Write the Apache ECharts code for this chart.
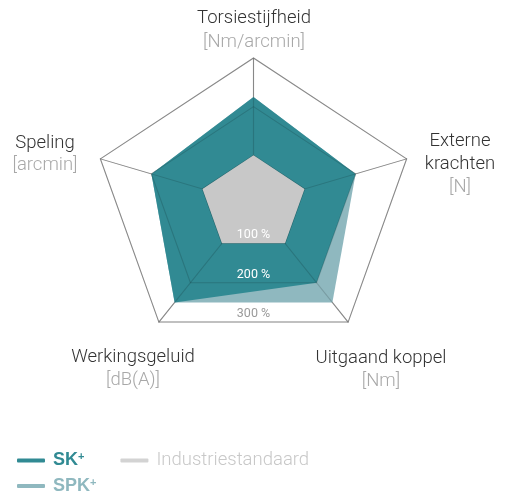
<!DOCTYPE html>
<html>
<head>
<meta charset="utf-8">
<script src="https://cdn.jsdelivr.net/npm/echarts@6/dist/echarts.min.js"></script>
<style>
  html, body { margin: 0; padding: 0; background: #fff; }
  #stage { position: relative; width: 505px; height: 494px; overflow: hidden; }
  #web, #keys { position: absolute; left: 0; top: 0; width: 505px; height: 494px; }
  /* the web is drawn wider than tall */
  #web { transform: scaleX(1.1027); transform-origin: 253.5px 0; }
</style>
</head>
<body>
<div id="stage"><div id="web"></div><div id="keys"></div></div>
<script>
// Axes, clockwise from the top (ECharts lays indicators out counter-clockwise)
const indicators = ['Torsiestijfheid', 'Speling', 'Werkingsgeluid', 'Uitgaand koppel', 'Externe krachten'];
const units = ['[Nm/arcmin]', '[arcmin]', '[dB(A)]', '[Nm]', '[N]'];

// Values in % of the industry standard, same order as indicators
const skPlus = [220, 200, 250, 200, 200];
const spkPlus = [220, 200, 250, 250, 200];
const industryStandard = [100, 100, 100, 100, 100];

// Ring labels
const levelTicks = [100, 200, 300];
const scaleMax = 300;

const seriesNames = { sk: 'SK+', spk: 'SPK+', ind: 'Industriestandaard' };

const COLORS = {
  sk: '#318a93',
  spk: '#8fb8bf',
  ind: '#c8c8c8',
  indKey: '#d3d3d3',
  grid: '#a0a0a0',
  gridShade: 'rgba(0,0,0,0.15)',
  name: '#333333',
  unit: '#a8a8a8'
};
const FONT = '"Liberation Sans", Arial, sans-serif';
const LIGHT_FONT = 'Roboto, "Liberation Sans", sans-serif';

const CENTER = [253.5, 204];
const RADIUS = 146;

function radarBase(extra) {
  return Object.assign({
    indicator: indicators.map(name => ({ name: name, min: 0, max: scaleMax })),
    center: CENTER,
    radius: RADIUS,
    startAngle: 90,
    splitNumber: levelTicks.length,
    shape: 'polygon',
    axisName: { show: false },
    axisLabel: { show: false },
    axisTick: { show: false },
    splitArea: { show: false }
  }, extra);
}

// ---- the web with the three profiles ----
const web = echarts.init(document.getElementById('web'), null, { renderer: 'svg' });
web.setOption({
  animation: false,
  radar: [
    radarBase({
      z: 0,
      splitLine: { lineStyle: { color: COLORS.grid, width: 1 } },
      axisLine: { lineStyle: { color: COLORS.grid, width: 1 } }
    }),
    // darker grid strokes laid over the filled profiles
    radarBase({
      z: 3,
      splitLine: { lineStyle: { color: COLORS.gridShade, width: 1 } },
      axisLine: { lineStyle: { color: COLORS.gridShade, width: 1 } }
    })
  ],
  series: [
    {
      type: 'radar', radarIndex: 0, z: 2, name: seriesNames.spk, symbol: 'none',
      lineStyle: { width: 0 },
      areaStyle: { color: COLORS.spk, opacity: 1 },
      data: [{ name: seriesNames.spk, value: spkPlus }]
    },
    {
      type: 'radar', radarIndex: 0, z: 2, name: seriesNames.sk, symbol: 'none',
      lineStyle: { width: 0 },
      areaStyle: { color: COLORS.sk, opacity: 1 },
      data: [{ name: seriesNames.sk, value: skPlus }]
    },
    {
      type: 'radar', radarIndex: 0, z: 4, name: seriesNames.ind, symbol: 'none',
      lineStyle: { width: 1, color: COLORS.gridShade },
      areaStyle: { color: COLORS.ind, opacity: 1 },
      data: [{ name: seriesNames.ind, value: industryStandard }]
    }
  ]
});

// ---- names, ring labels and legend ----
// where each axis name block sits (centre x, top y, line height)
const namePlacement = [
  { x: 254, y: 6, lh: 24 },
  { x: 45, y: 132, lh: 22 },
  { x: 133, y: 346, lh: 23 },
  { x: 381, y: 347, lh: 23 },
  { x: 460, y: 130, lh: 23 }
];
const nameLines = ['Torsiestijfheid', 'Speling', 'Werkingsgeluid', 'Uitgaand koppel', 'Externe\nkrachten'];

const keys = echarts.init(document.getElementById('keys'));
const ringLabelColor = v => (v >= scaleMax ? '#9a9a9a' : '#ffffff');

keys.setOption({
  animation: false,
  grid: { left: 0, top: 0, width: 10, height: 10, show: false },
  xAxis: { type: 'category', show: false, data: [] },
  yAxis: { type: 'value', show: false },
  radar: {
    indicator: indicators.map((name, i) => ({ name: name, min: 0, max: scaleMax, axisLabel: { show: i === 0 } })),
    center: [CENTER[0], CENTER[1] - 8],
    radius: RADIUS * Math.cos(36 * Math.PI / 180),
    startAngle: -90,
    splitNumber: levelTicks.length,
    shape: 'polygon',
    axisName: { show: false },
    splitLine: { show: false },
    splitArea: { show: false },
    axisLine: { show: false },
    axisTick: { show: false },
    axisLabel: {
      show: false, margin: 0, align: 'center', verticalAlign: 'middle',
      showMinLabel: false, fontSize: 12.5, fontFamily: LIGHT_FONT,
      color: ringLabelColor,
      formatter: v => (levelTicks.indexOf(v) >= 0 ? v + ' %' : '')
    }
  },
  legend: [
    {
      data: [seriesNames.sk, seriesNames.ind],
      left: 17, top: 451, itemGap: 36
    },
    {
      data: [seriesNames.spk],
      left: 17, top: 477
    }
  ].map(l => Object.assign(l, {
    orient: 'horizontal',
    padding: 0,
    icon: 'roundRect',
    itemWidth: 28,
    itemHeight: 4,
    selectedMode: false,
    formatter: name => ({
      'SK+': '{sk|SK}{skSup|+}',
      'SPK+': '{spk|SPK}{spkSup|+}',
      'Industriestandaard': '{ind|Industriestandaard}'
    })[name],
    textStyle: {
      fontFamily: FONT,
      rich: {
        sk: { color: COLORS.sk, fontSize: 18, fontWeight: 'bold', fontFamily: FONT, padding: [0, 0, 0, 3] },
        skSup: { color: COLORS.sk, fontSize: 11, fontWeight: 'bold', fontFamily: FONT, verticalAlign: 'top' },
        spk: { color: COLORS.spk, fontSize: 18, fontWeight: 'bold', fontFamily: FONT, padding: [0, 0, 0, 3] },
        spkSup: { color: COLORS.spk, fontSize: 11, fontWeight: 'bold', fontFamily: FONT, verticalAlign: 'top' },
        ind: { color: COLORS.ind, fontSize: 18.5, fontWeight: 300, fontFamily: LIGHT_FONT, padding: [0, 0, 0, 3] }
      }
    }
  })),
  series: [
    { type: 'line', name: seriesNames.sk, data: [], itemStyle: { color: COLORS.sk }, lineStyle: { color: COLORS.sk } },
    { type: 'line', name: seriesNames.spk, data: [], itemStyle: { color: COLORS.spk }, lineStyle: { color: COLORS.spk } },
    { type: 'line', name: seriesNames.ind, data: [], itemStyle: { color: COLORS.indKey }, lineStyle: { color: COLORS.indKey } }
  ],
  graphic: indicators.map((name, i) => ({
    type: 'text',
    x: namePlacement[i].x,
    y: namePlacement[i].y,
    silent: true,
    style: {
      text: nameLines[i].split('\n').map(l => '{n|' + l + '}').join('\n') + '\n{u|' + units[i] + '}',
      align: 'center',
      verticalAlign: 'top',
      font: '300 18.5px ' + LIGHT_FONT,
      rich: {
        n: { fontSize: 18.5, fontWeight: 300, fontFamily: LIGHT_FONT, fill: COLORS.name, lineHeight: namePlacement[i].lh, align: 'center' },
        u: { fontSize: 18.5, fontWeight: 300, fontFamily: LIGHT_FONT, fill: COLORS.unit, lineHeight: namePlacement[i].lh, align: 'center' }
      }
    }
  }))
});
</script>
</body>
</html>
